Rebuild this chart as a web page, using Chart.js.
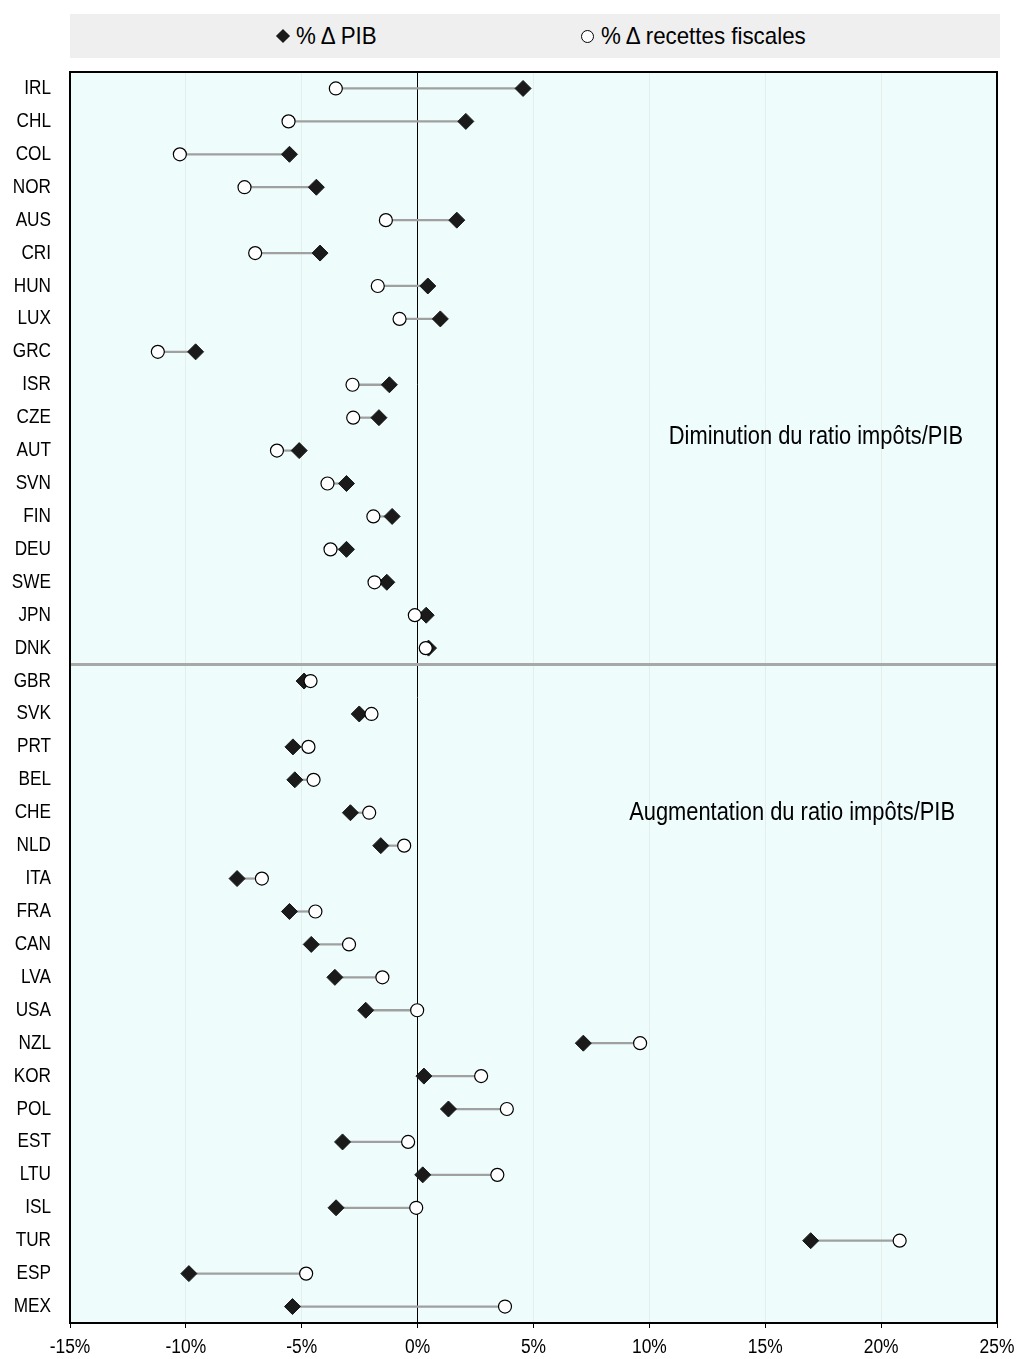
<!DOCTYPE html>
<html lang="fr">
<head>
<meta charset="utf-8">
<script src="https://cdn.jsdelivr.net/npm/chart.js@4.4.1/dist/chart.umd.min.js"></script>
<style>
  body { margin: 0; background: #fff; }
  #cadre { position: relative; width: 1016px; height: 1359px; }
  #graf { position: absolute; left: 0; top: 0; }
  #leyenda {
    position: absolute; left: 70px; top: 14px; width: 930px; height: 44px;
    background: #efefef;
    font-family: "Liberation Sans", Arial, sans-serif;
    font-size: 24px; color: #000;
  }
  .item { position: absolute; top: 0; height: 44px; display: flex; align-items: center; }
  .item span.txt { display: inline-block; transform: scaleX(0.93); transform-origin: left center; white-space: nowrap; }
  .rombo { width: 10px; height: 10px; background: #1a1a1a; transform: rotate(45deg); margin: 0 8px 0 4px; }
  .circulo { width: 11px; height: 11px; border: 1px solid #000; border-radius: 50%; background: #fff; margin: 0 7px 0 0; }
</style>
</head>
<body>
<div id="cadre">
  <canvas id="graf" width="1016" height="1359"></canvas>
  <div id="leyenda">
    <div class="item" style="left:204px"><span class="rombo"></span><span class="txt">% &Delta; PIB</span></div>
    <div class="item" style="left:511px"><span class="circulo"></span><span class="txt">% &Delta; recettes fiscales</span></div>
  </div>
</div>
<script>
const FUENTE = "'Liberation Sans', Arial, sans-serif";

const paises = ["IRL", "CHL", "COL", "NOR", "AUS", "CRI", "HUN", "LUX", "GRC", "ISR",
  "CZE", "AUT", "SVN", "FIN", "DEU", "SWE", "JPN", "DNK",
  "GBR", "SVK", "PRT", "BEL", "CHE", "NLD", "ITA", "FRA", "CAN", "LVA", "USA", "NZL",
  "KOR", "POL", "EST", "LTU", "ISL", "TUR", "ESP", "MEX"];

const pib = [4.55, 2.08, -5.53, -4.37, 1.69, -4.21, 0.44, 0.98, -9.58, -1.22,
  -1.67, -5.11, -3.07, -1.10, -3.07, -1.33, 0.37, 0.47,
  -4.90, -2.52, -5.38, -5.30, -2.90, -1.59, -7.79, -5.53, -4.59, -3.57, -2.24, 7.15,
  0.27, 1.33, -3.24, 0.22, -3.52, 16.96, -9.87, -5.40];

const recettes = [-3.53, -5.57, -10.26, -7.47, -1.37, -7.01, -1.72, -0.78, -11.21, -2.81,
  -2.78, -6.07, -3.89, -1.91, -3.76, -1.86, -0.12, 0.35,
  -4.62, -1.99, -4.71, -4.49, -2.09, -0.58, -6.72, -4.41, -2.96, -1.52, -0.02, 9.60,
  2.74, 3.85, -0.41, 3.44, -0.06, 20.80, -4.81, 3.77];

const ejeMin = -15;
const ejeMax = 25;
const ejePaso = 5;

// dernier pays du groupe "diminution"
const ultimoDiminucion = "DNK";

const textos = [
  { texto: "Diminution du ratio impôts/PIB", fila: 10.6 },
  { texto: "Augmentation du ratio impôts/PIB", fila: 22 },
];

// texte un peu étroit, comme dans l'original
function textoEstrecho(ctx, t, x, y, k) {
  ctx.save();
  ctx.translate(x, y);
  ctx.scale(k, 1);
  ctx.fillText(t, 0, 0);
  ctx.restore();
}

const pluginFondo = {
  id: "fondo",
  beforeDraw: function (chart) {
    let a = chart.chartArea;
    let ctx = chart.ctx;
    ctx.save();
    ctx.fillStyle = "#effcfc";
    ctx.fillRect(a.left, a.top, a.right - a.left, a.bottom - a.top);
    ctx.restore();
  },
  beforeDatasetsDraw: function (chart) {
    let a = chart.chartArea;
    let ctx = chart.ctx;
    let y = chart.scales.y;
    let i = paises.indexOf(ultimoDiminucion);
    let yLinea = (y.getPixelForValue(i) + y.getPixelForValue(i + 1)) / 2;
    ctx.save();
    ctx.strokeStyle = "#a8a8a8";
    ctx.lineWidth = 3;
    ctx.beginPath();
    ctx.moveTo(a.left, yLinea);
    ctx.lineTo(a.right, yLinea);
    ctx.stroke();
    ctx.restore();
  },
  afterDraw: function (chart) {
    let a = chart.chartArea;
    let ctx = chart.ctx;
    let x = chart.scales.x;
    let y = chart.scales.y;
    ctx.save();
    ctx.strokeStyle = "#000";
    ctx.lineWidth = 2;
    ctx.strokeRect(a.left, a.top, a.right - a.left, a.bottom - a.top);

    ctx.fillStyle = "#000";
    ctx.textBaseline = "middle";

    // étiquettes des pays
    ctx.font = "20px " + FUENTE;
    ctx.textAlign = "right";
    y.ticks.forEach(function (t, i) {
      textoEstrecho(ctx, paises[t.value], a.left - 19, y.getPixelForTick(i), 0.86);
    });

    // étiquettes de l'axe x
    ctx.font = "20px " + FUENTE;
    ctx.textAlign = "center";
    x.ticks.forEach(function (t, i) {
      textoEstrecho(ctx, t.value + "%", x.getPixelForTick(i), a.bottom + 24, 0.87);
    });

    ctx.font = "25px " + FUENTE;
    ctx.textAlign = "right";
    textos.forEach(function (t, k) {
      textoEstrecho(ctx, t.texto, a.right - (k === 0 ? 34 : 42), y.getPixelForValue(t.fila), 0.875);
    });
    ctx.restore();
  },
};

let ctx = document.getElementById("graf");

new Chart(ctx, {
  type: "bar",
  data: {
    labels: paises,
    datasets: [
      {
        label: "écart",
        data: paises.map(function (p, i) { return [pib[i], recettes[i]]; }),
        backgroundColor: "#a0a0a0",
        barThickness: 1.6,
        order: 3,
      },
      {
        type: "line",
        label: "% Δ PIB",
        data: pib,
        showLine: false,
        pointStyle: "rectRot",
        pointRadius: 8,
        pointBackgroundColor: "#1a1a1a",
        pointBorderColor: "#1a1a1a",
        pointBorderWidth: 1,
        order: 2,
      },
      {
        type: "line",
        label: "% Δ recettes fiscales",
        data: recettes,
        showLine: false,
        pointStyle: "circle",
        pointRadius: 6.5,
        pointBackgroundColor: "#ffffff",
        pointBorderColor: "#000000",
        pointBorderWidth: 1.2,
        order: 1,
      },
    ],
  },
  options: {
    indexAxis: "y",
    responsive: false,
    devicePixelRatio: 1,
    animation: false,
    layout: {
      padding: { top: 72, right: 19, bottom: 0, left: 0 },
    },
    plugins: {
      legend: { display: false },
      tooltip: { enabled: false },
    },
    scales: {
      x: {
        min: ejeMin,
        max: ejeMax,
        border: { display: false },
        grid: {
          color: function (c) {
            return c.tick && c.tick.value === 0 ? "#000000" : "#e6eded";
          },
          lineWidth: 1,
          tickLength: 5,
          tickColor: "#000000",
        },
        ticks: {
          stepSize: ejePaso,
          display: false,
        },
        afterFit: function (scale) { scale.height = 36; },
      },
      y: {
        border: { display: false },
        grid: { display: false, drawTicks: false },
        ticks: {
          display: false,
          autoSkip: false,
        },
        afterFit: function (scale) { scale.width = 70; },
      },
    },
  },
  plugins: [pluginFondo],
});
</script>
</body>
</html>
